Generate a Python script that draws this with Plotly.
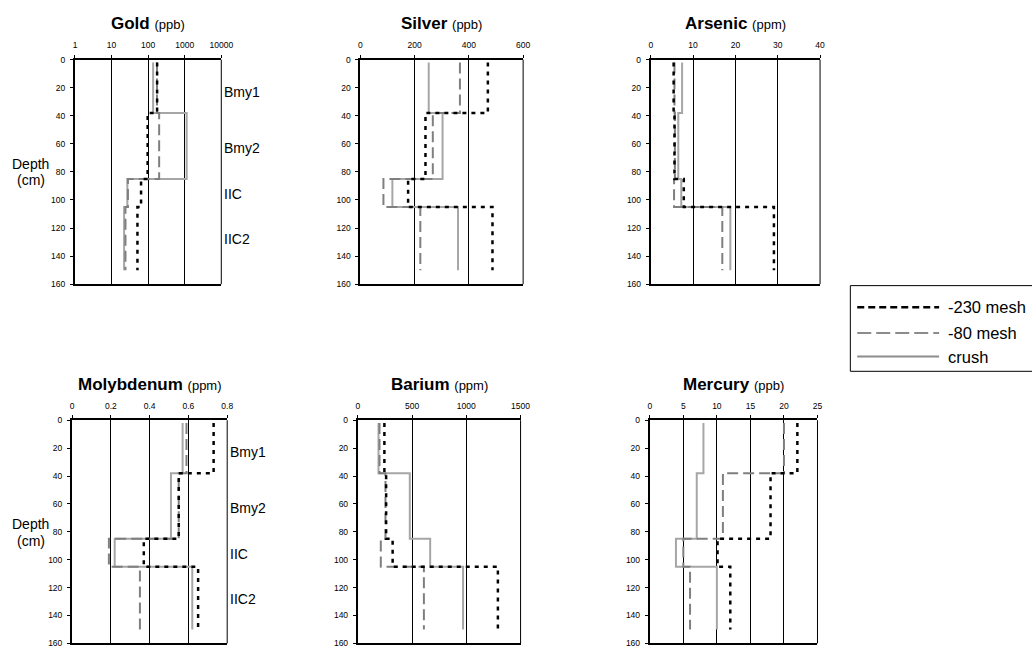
import plotly.graph_objects as go

# Sampling horizons: top / base depths (cm) of each sampled interval
depth_breaks = [2, 38, 85, 105, 150]
horizon_names = ["Bmy1", "Bmy2", "IIC", "IIC2"]
horizon_label_depths = [23, 63, 96, 128]

# Concentrations per horizon (Bmy1, Bmy2, IIC, IIC2) for each size fraction
gold_230 = [176, 97, 64, 51]
gold_80 = [175, 200, 28, 24]
gold_crush = [137, 1130, 27, 22]

silver_230 = [470, 240, 176, 487]
silver_80 = [367, 267, 85, 221]
silver_crush = [252, 303, 118, 360]

arsenic_230 = [5.4, 5.6, 7.8, 29.1]
arsenic_80 = [5.6, 5.7, 5.5, 16.9]
arsenic_crush = [7.4, 6.5, 7.2, 18.8]

moly_230 = [0.73, 0.55, 0.37, 0.65]
moly_80 = [0.59, 0.55, 0.19, 0.35]
moly_crush = [0.57, 0.51, 0.22, 0.62]

barium_230 = [245, 261, 321, 1291]
barium_80 = [200, 255, 212, 609]
barium_crush = [191, 479, 667, 970]

mercury_230 = [22, 18, 10.1, 12]
mercury_80 = [20, 10.9, 5.0, 6.0]
mercury_crush = [8, 7, 3.9, 10]

# Axis ticks
gold_ticks = [1, 10, 100, 1000, 10000]
silver_ticks = [0, 200, 400, 600]
arsenic_ticks = [0, 10, 20, 30, 40]
moly_ticks = [0, 0.2, 0.4, 0.6, 0.8]
barium_ticks = [0, 500, 1000, 1500]
mercury_ticks = [0, 5, 10, 15, 20, 25]
depth_ticks = [0, 20, 40, 60, 80, 100, 120, 140, 160]

series_names = ["-230 mesh", "-80 mesh", "crush"]

W, H = 1032, 653
FONT = "Liberation Sans, Arial, sans-serif"


def px_x(x):
    return x / W


def px_y(y):
    return 1 - y / H


panels = [
    dict(name="Gold", unit="(ppb)", log=True, ticks=gold_ticks,
         data=[gold_230, gold_80, gold_crush], box=(74, 222.3, 55.5, 283.5), horizons=True),
    dict(name="Silver", unit="(ppb)", log=False, ticks=silver_ticks,
         data=[silver_230, silver_80, silver_crush], box=(363.3, 528.3, 55.5, 283.5), horizons=False),
    dict(name="Arsenic", unit="(ppm)", log=False, ticks=arsenic_ticks,
         data=[arsenic_230, arsenic_80, arsenic_crush], box=(657.7, 829.3, 55.5, 283.5), horizons=False),
    dict(name="Molybdenum", unit="(ppm)", log=False, ticks=moly_ticks,
         data=[moly_230, moly_80, moly_crush], box=(71, 228.3, 421.7, 648.3), horizons=True),
    dict(name="Barium", unit="(ppm)", log=False, ticks=barium_ticks,
         data=[barium_230, barium_80, barium_crush], box=(360.7, 525.7, 421.7, 648.3), horizons=False),
    dict(name="Mercury", unit="(ppb)", log=False, ticks=mercury_ticks,
         data=[mercury_230, mercury_80, mercury_crush], box=(656.7, 826.7, 421.7, 648.3), horizons=False),
]

line_styles = {
    "-230 mesh": dict(color="black", width=2.5, dash="4px,5px"),
    "-80 mesh": dict(color="#7f7f7f", width=2, dash="11px,5px"),
    "crush": dict(color="#a6a6a6", width=2, dash="solid"),
}
draw_order = [2, 1, 0]  # crush underneath, -230 mesh on top

fig = go.Figure()
annotations = []
shapes = []

for i, p in enumerate(panels, start=1):
    xa = "x" if i == 1 else f"x{i}"
    ya = "y" if i == 1 else f"y{i}"
    x0, x1, y0, y1 = p["box"]

    for k in draw_order:
        vals = p["data"][k]
        name = series_names[k]
        fig.add_trace(go.Scatter(
            x=vals + [vals[-1]],
            y=depth_breaks,
            mode="lines",
            line=dict(shape="vh", **line_styles[name]),
            name=name,
            showlegend=False,
            xaxis=xa, yaxis=ya,
            hovertemplate=f"{p['name']} {name}: %{{x}}<extra></extra>",
        ))

    tick_text = [f"{t:g}" for t in p["ticks"]]
    xaxis = dict(
        domain=[px_x(x0), px_x(x1)], anchor=ya, side="top",
        tickvals=p["ticks"], ticktext=tick_text,
        showgrid=True, gridcolor="black", gridwidth=1,
        showline=True, linecolor="black", linewidth=2, mirror=True,
        ticks="outside", ticklen=3, tickcolor="black", tickwidth=1,
        tickfont=dict(size=8.5, color="black", family=FONT),
        ticklabelstandoff=3, zeroline=False,
    )
    if p["log"]:
        xaxis.update(type="log", range=[0, 4])
    else:
        xaxis.update(range=[p["ticks"][0], p["ticks"][-1]])

    yaxis = dict(
        domain=[px_y(y1), px_y(y0)], anchor=xa,
        range=[160, 0], tickvals=depth_ticks,
        showgrid=False, zeroline=False,
        showline=True, linecolor="black", linewidth=2,
        ticks="outside", ticklen=3, tickcolor="black", tickwidth=1,
        tickfont=dict(size=8.5, color="black", family=FONT),
        ticklabelstandoff=3,
    )
    fig.update_layout({f"xaxis{'' if i == 1 else i}": xaxis,
                       f"yaxis{'' if i == 1 else i}": yaxis})

    # right-hand frame edge
    shapes.append(dict(type="line", xref=f"{xa} domain", yref=f"{ya} domain",
                       x0=1, x1=1, y0=0, y1=1, line=dict(color="black", width=1)))

    # panel title
    title_y = 19 if y0 < 100 else 385
    annotations.append(dict(
        xref="paper", yref="paper", x=px_x((x0 + x1) / 2), y=px_y(title_y),
        xanchor="center", yanchor="middle", showarrow=False,
        text=f"<b>{p['name']}</b> <span style='font-size:13px'>{p['unit']}</span>",
        font=dict(size=17, color="black", family=FONT),
    ))

    if p["horizons"]:
        for hn, hd in zip(horizon_names, horizon_label_depths):
            annotations.append(dict(
                xref=f"{xa} domain", yref=ya, x=1, y=hd, xanchor="left", yanchor="middle",
                xshift=1, showarrow=False, text=hn,
                font=dict(size=14, color="black", family=FONT),
            ))
        dy = 161 if y0 < 100 else 527
        for txt, off in (("Depth", 0), ("(cm)", 17)):
            annotations.append(dict(
                xref="paper", yref="paper", x=px_x(29), y=px_y(dy + off),
                xanchor="center", yanchor="middle", showarrow=False, text=txt,
                font=dict(size=14, color="black", family=FONT),
            ))

# Legend box with sample lines
shapes.append(dict(type="rect", xref="paper", yref="paper",
                   x0=px_x(860), x1=px_x(1045), y0=px_y(372), y1=px_y(285),
                   line=dict(color="black", width=1), fillcolor="white", layer="below"))
legend_styles = [
    dict(color="black", width=2.5, dash="7px,4px"),
    dict(color="#8c8c8c", width=2, dash="14px,5px"),
    dict(color="#8c8c8c", width=2, dash="solid"),
]
for name, st, ly in zip(series_names, legend_styles, [307, 333, 357]):
    shapes.append(dict(type="line", xref="paper", yref="paper",
                       x0=px_x(867), x1=px_x(950), y0=px_y(ly), y1=px_y(ly), line=st))
    annotations.append(dict(
        xref="paper", yref="paper", x=px_x(957), y=px_y(ly), xanchor="left", yanchor="middle",
        showarrow=False, text=name, font=dict(size=16.5, color="black", family=FONT),
    ))

fig.update_layout(
    width=W, height=H,
    margin=dict(l=0, r=0, t=0, b=0),
    paper_bgcolor="white", plot_bgcolor="white",
    font=dict(family=FONT, color="black"),
    showlegend=False,
    annotations=annotations,
    shapes=shapes,
)

fig.write_html("out.html")
